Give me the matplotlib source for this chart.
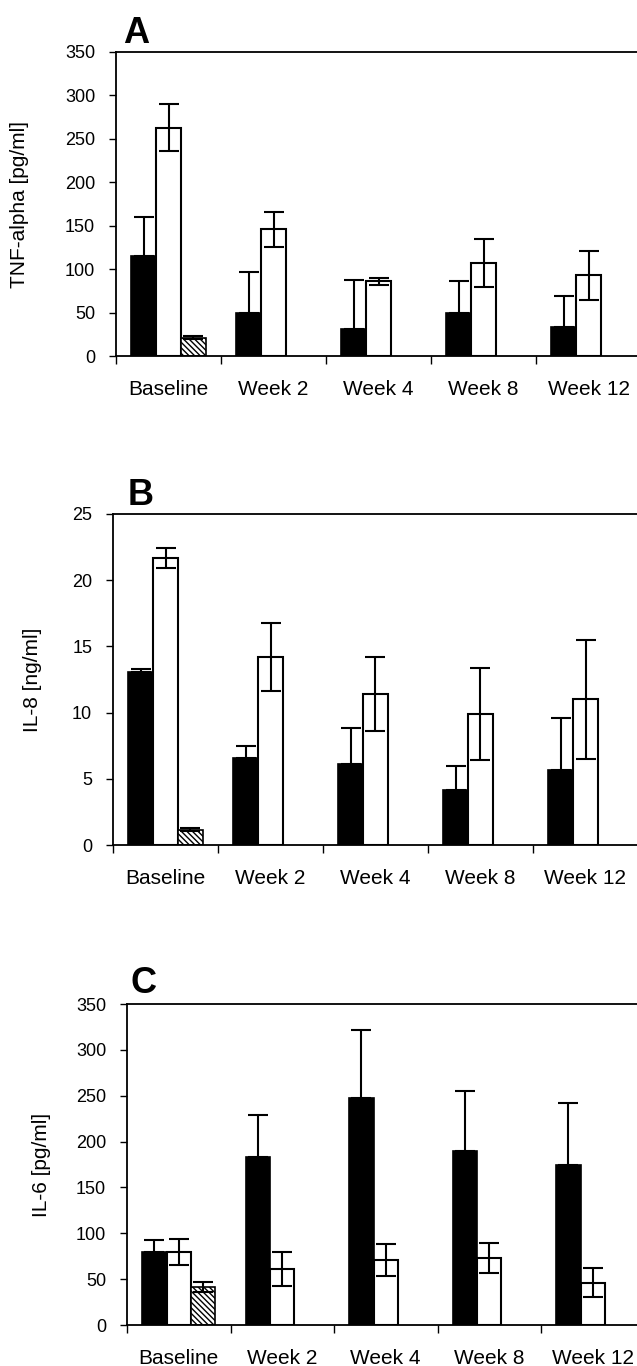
import numpy as np
import matplotlib as mpl
mpl.use("Agg")
import matplotlib.pyplot as plt

plt.rcParams["font.family"] = ["Liberation Sans", "DejaVu Sans"]
plt.rcParams["hatch.linewidth"] = 1.0

groups = ["Baseline", "Week 2", "Week 4", "Week 8", "Week 12"]

# panel A: TNF-alpha [pg/ml]
tnf_black = [115, 50, 31, 49, 33]
tnf_black_err = [45, 47, 56, 37, 36]
tnf_white = [263, 146, 86, 107, 93]
tnf_white_err = [27, 20, 4, 28, 28]
tnf_hatch = [21]
tnf_hatch_err = [2]

# panel B: IL-8 [ng/ml]
il8_black = [13.1, 6.6, 6.1, 4.15, 5.65]
il8_black_err = [0.2, 0.9, 2.7, 1.85, 3.95]
il8_white = [21.7, 14.2, 11.4, 9.9, 11.0]
il8_white_err = [0.75, 2.6, 2.8, 3.5, 4.5]
il8_hatch = [1.15]
il8_hatch_err = [0.1]

# panel C: IL-6 [pg/ml]
il6_black = [79.5, 183, 247, 190, 174]
il6_black_err = [13, 46, 75, 65, 68]
il6_white = [79.5, 61, 71, 73, 46]
il6_white_err = [14.5, 19, 17.5, 16.5, 16]
il6_hatch = [41]
il6_hatch_err = [5.5]

panels = [
    dict(letter="A", ylabel="TNF-alpha [pg/ml]", ymax=350, step=50,
         black=tnf_black, black_err=tnf_black_err, white=tnf_white,
         white_err=tnf_white_err, hatch=tnf_hatch, hatch_err=tnf_hatch_err,
         rect=[116, 52, 356, 105], letter_xy=(123, 43), ylab_x=29),
    dict(letter="B", ylabel="IL-8 [ng/ml]", ymax=25, step=5,
         black=il8_black, black_err=il8_black_err, white=il8_white,
         white_err=il8_white_err, hatch=il8_hatch, hatch_err=il8_hatch_err,
         rect=[113, 514, 845, 105], letter_xy=(128, 505), ylab_x=42),
    dict(letter="C", ylabel="IL-6 [pg/ml]", ymax=350, step=50,
         black=il6_black, black_err=il6_black_err, white=il6_white,
         white_err=il6_white_err, hatch=il6_hatch, hatch_err=il6_hatch_err,
         rect=[127, 1004, 1325, 103.5], letter_xy=(130, 993), ylab_x=51),
]

W, H = 637, 1366
fig = plt.figure(figsize=(W / 100, H / 100), dpi=100)

bw = 0.235
ekw = dict(ecolor="black", elinewidth=1.5, capsize=7, capthick=1.5)

for p in panels:
    left, top, bottom, gw = p["rect"]
    ax = fig.add_axes([left / W, 1 - bottom / H, 5 * gw / W, (bottom - top) / H])
    x = np.arange(len(groups)) + 0.5
    nb = len(p["black"])

    ax.bar(x - bw, p["black"], bw, color="black", edgecolor="black", lw=1.2,
           yerr=[np.zeros(nb), p["black_err"]], error_kw=ekw, zorder=2)
    ax.bar(x, p["white"], bw, color="white", edgecolor="black", lw=1.5,
           yerr=p["white_err"], error_kw=ekw, zorder=2)
    xh = x[:len(p["hatch"])] + bw
    ax.bar(xh, p["hatch"], bw, color="white", edgecolor="black", lw=1.2,
           hatch="\\\\\\\\\\\\", yerr=p["hatch_err"], error_kw=ekw, zorder=2)

    ax.set_xlim(0, len(groups))
    ax.set_ylim(0, p["ymax"])
    ax.set_yticks(np.arange(0, p["ymax"] + 1, p["step"]))
    ax.set_xticks(x)
    ax.set_xticklabels(groups, fontsize=15)
    ax.set_xticks(np.arange(len(groups)), minor=True)
    ax.tick_params(axis="x", which="major", length=0, pad=17)
    ax.tick_params(axis="x", which="minor", length=6, width=1.0, direction="out")
    ax.tick_params(axis="y", length=5, width=1.0, direction="out", labelsize=13, pad=10)

    for s in ax.spines.values():
        s.set_linewidth(1.3)
        s.set_color("black")

    ax.set_ylabel(p["ylabel"], fontsize=15)
    ax.yaxis.set_label_coords((p["ylab_x"] - left) / (5 * gw), 0.5)

    lx, ly = p["letter_xy"]
    fig.text(lx / W, 1 - ly / H, p["letter"], fontsize=26, fontweight="bold",
             ha="left", va="baseline")

fig.savefig("out.png", dpi=100)
